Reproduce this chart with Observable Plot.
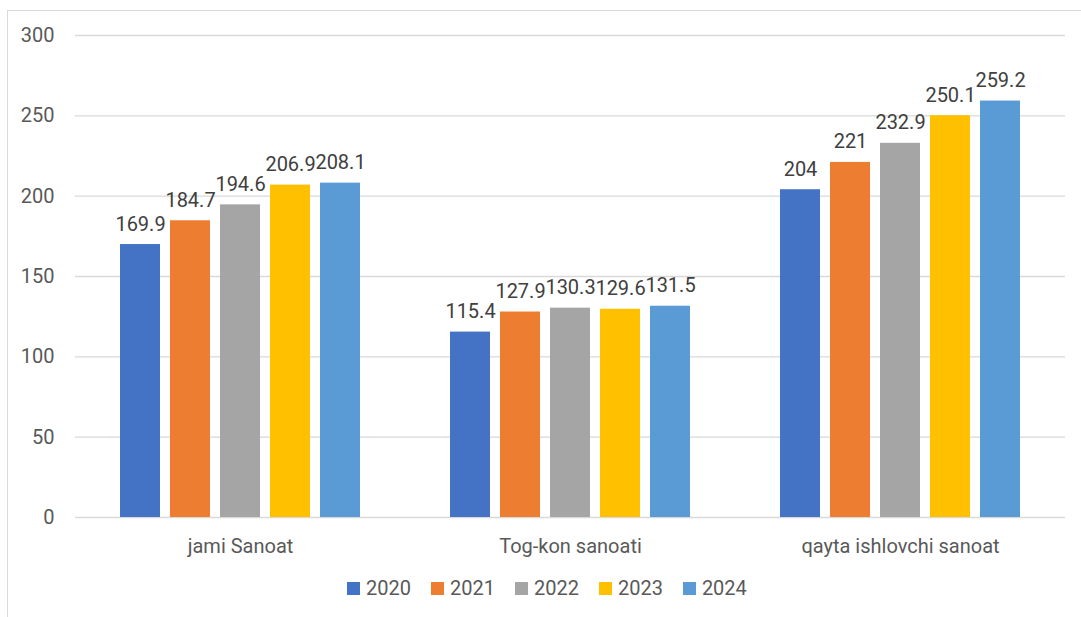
<!DOCTYPE html>
<html>
<head>
<meta charset="utf-8">
<script src="https://cdn.jsdelivr.net/npm/d3@7"></script>
<script src="https://cdn.jsdelivr.net/npm/@observablehq/plot@0.6"></script>
<style>
  body { margin: 0; background: #fff; font-family: Roboto, "Noto Sans", sans-serif; }
  #wrap { position: relative; width: 1081px; height: 617px; overflow: hidden; background: #fff; }
  #border { position: absolute; left: 7px; top: 10px; width: 1100px; height: 700px; border-left: 1px solid #d9d9d9; border-top: 1px solid #d9d9d9; }
  #chart { position: absolute; left: 0; top: 0; }
  #legend { position: absolute; left: 347px; top: 576px; display: flex; align-items: center; font-size: 20px; color: #595959; }
  .item { display: flex; align-items: center; margin-right: 20px; }
  .sw { width: 13px; height: 13px; margin-right: 6px; }
</style>
</head>
<body>
<div id="wrap">
  <div id="border"></div>
  <div id="chart"></div>
  <div id="legend"></div>
</div>
<script>
const groups = ["jami Sanoat", "Tog-kon sanoati", "qayta ishlovchi sanoat"];
const years = ["2020", "2021", "2022", "2023", "2024"];
const colors = ["#4472C4", "#ED7D31", "#A5A5A5", "#FFC000", "#5B9BD5"];
const v2020 = [169.9, 115.4, 204];
const v2021 = [184.7, 127.9, 221];
const v2022 = [194.6, 130.3, 232.9];
const v2023 = [206.9, 129.6, 250.1];
const v2024 = [208.1, 131.5, 259.2];
const yTicks = [0, 50, 100, 150, 200, 250, 300];

const series = [v2020, v2021, v2022, v2023, v2024];
const data = [];
groups.forEach((g, gi) => {
  years.forEach((y, yi) => data.push({group: g, year: y, value: series[yi][gi]}));
});

const chart = Plot.plot({
  width: 1081,
  height: 570,
  marginLeft: 75,
  marginRight: 16,
  marginTop: 35,
  marginBottom: 53,
  style: {fontFamily: "Roboto, 'Noto Sans', sans-serif", fontSize: "20px", background: "transparent"},
  fx: {domain: groups, padding: 0, label: null},
  x: {domain: years, paddingInner: 0.2, paddingOuter: 0.9, axis: null},
  y: {domain: [0, 300], label: null},
  color: {domain: years, range: colors},
  marks: [
    Plot.ruleY(yTicks, {stroke: "#d9d9d9", strokeWidth: 1.3}),
    Plot.barY(data, {fx: "group", x: "year", y: "value", fill: "year"}),
    Plot.text(data, {fx: "group", x: "year", y: "value", text: d => String(d.value), lineAnchor: "bottom", dy: -14, fill: "#404040", fontSize: 20}),
    Plot.axisY({ticks: yTicks, tickSize: 0, tickPadding: 21, fill: "#595959", fontSize: 20, label: null}),
    Plot.axisFx({anchor: "bottom", tickSize: 0, tickPadding: 21, fill: "#595959", fontSize: 20, label: null})
  ]
});
document.getElementById("chart").appendChild(chart);

const legend = document.getElementById("legend");
years.forEach((y, i) => {
  const it = document.createElement("div");
  it.className = "item";
  const sw = document.createElement("span");
  sw.className = "sw";
  sw.style.background = colors[i];
  const t = document.createElement("span");
  t.textContent = y;
  it.appendChild(sw); it.appendChild(t);
  legend.appendChild(it);
});
</script>
</body>
</html>
